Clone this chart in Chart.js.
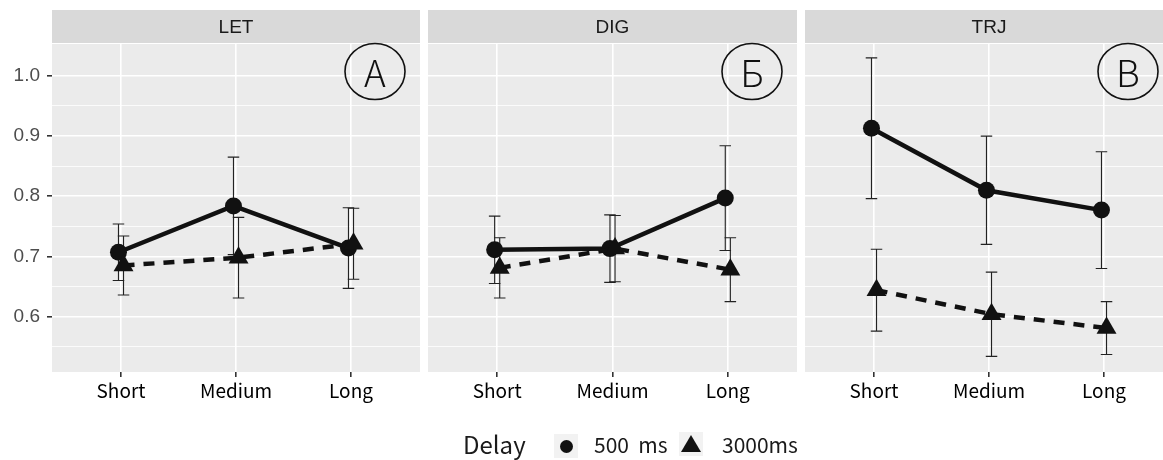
<!DOCTYPE html>
<html>
<head>
<meta charset="utf-8">
<script src="https://cdn.jsdelivr.net/npm/chart.js@4.4.1/dist/chart.umd.min.js"></script>
<style>
  html, body { margin: 0; padding: 0; background: #fff; }
  #wrap { position: relative; width: 1163px; height: 460px; overflow: hidden; }
  .panel { position: absolute; top: 0; }
  #legend { position: absolute; left: 0; top: 0; width: 1163px; height: 460px; font-family: "Noto Sans CJK KR", "Noto Sans", sans-serif; color: #1a1a1a; pointer-events: none; }
  #legend span { position: absolute; white-space: nowrap; }
  .key { background: #f2f2f2; width: 24px; height: 24px; }
  .dot { position: absolute; left: 5.5px; top: 5.5px; width: 13px; height: 13px; border-radius: 50%; background: #111; }
  .tri { position: absolute; left: 2px; top: 3px; width: 0; height: 0; border-left: 10px solid transparent; border-right: 10px solid transparent; border-bottom: 17px solid #111; }
</style>
</head>
<body>
<div id="wrap">
  <canvas id="c1" class="panel" width="424" height="410" style="left:0px"></canvas>
  <canvas id="c2" class="panel" width="377" height="410" style="left:424px"></canvas>
  <canvas id="c3" class="panel" width="376" height="410" style="left:801px"></canvas>
  <div id="legend">
    <span style="left:463px; top:426px; font-size:24px;">Delay</span>
    <span class="key" style="left:554px; top:434px;"><i class="dot"></i></span>
    <span style="left:594px; top:429px; font-size:21px;">500&nbsp; ms</span>
    <span class="key" style="left:679px; top:432px;"><i class="tri"></i></span>
    <span style="left:722px; top:429px; font-size:21px;">3000ms</span>
  </div>
</div>
<script>
var categories = ['Short', 'Medium', 'Long'];
var yMajor = [0.6, 0.7, 0.8, 0.9, 1.0];
var yMinor = [0.55, 0.65, 0.75, 0.85, 0.95];

// means and error half-widths
var let500 = [0.707, 0.784, 0.714];
var let500Err = [0.047, 0.081, 0.067];
var let3000 = [0.685, 0.698, 0.721];
var let3000Err = [0.049, 0.067, 0.059];

var dig500 = [0.711, 0.713, 0.797];
var dig500Err = [0.056, 0.056, 0.087];
var dig3000 = [0.681, 0.713, 0.678];
var dig3000Err = [0.050, 0.055, 0.053];

var trj500 = [0.913, 0.810, 0.777];
var trj500Err = [0.117, 0.090, 0.097];
var trj3000 = [0.644, 0.604, 0.581];
var trj3000Err = [0.068, 0.070, 0.044];

var dodge = 0.022;

function points(means, shift) {
    var out = [];
    for (var i = 0; i < means.length; i++) {
        out.push({ x: i + 1 + shift, y: means[i] });
    }
    return out;
}

function isMajor(v) {
    for (var i = 0; i < yMajor.length; i++) {
        if (Math.abs(yMajor[i] - v) < 1e-6) return true;
    }
    return false;
}

var panelPlugin = {
    id: 'panel',
    beforeDraw: function(chart, args, opts) {
        var ctx = chart.ctx;
        var a = chart.chartArea;
        ctx.save();
        ctx.fillStyle = '#ebebeb';
        ctx.fillRect(a.left, a.top, a.right - a.left, a.bottom - a.top);
        // strip
        ctx.fillStyle = '#d9d9d9';
        ctx.fillRect(a.left, 10, a.right - a.left, 33);
        ctx.fillStyle = '#1a1a1a';
        ctx.font = '19px "Liberation Sans", Arial, sans-serif';
        ctx.textAlign = 'center';
        ctx.textBaseline = 'middle';
        ctx.fillText(opts.facet, (a.left + a.right) / 2, 27.5);
        ctx.restore();
    },
    beforeDatasetsDraw: function(chart, args, opts) {
        var ctx = chart.ctx;
        var xs = chart.scales.x;
        var ys = chart.scales.y;
        ctx.save();
        ctx.strokeStyle = '#222';
        ctx.lineWidth = 1.1;
        chart.data.datasets.forEach(function(ds) {
            ds.data.forEach(function(p, i) {
                var x = xs.getPixelForValue(p.x);
                var top = ys.getPixelForValue(p.y + ds.err[i]);
                var bot = ys.getPixelForValue(p.y - ds.err[i]);
                var half = xs.getPixelForValue(1.05) - xs.getPixelForValue(1);
                ctx.beginPath();
                ctx.moveTo(x, top); ctx.lineTo(x, bot);
                ctx.moveTo(x - half, top); ctx.lineTo(x + half, top);
                ctx.moveTo(x - half, bot); ctx.lineTo(x + half, bot);
                ctx.stroke();
            });
        });
        ctx.restore();
    },
    afterDraw: function(chart, args, opts) {
        var ctx = chart.ctx;
        var a = chart.chartArea;
        var cx = a.right - 45, cy = 71.5;
        ctx.save();
        ctx.strokeStyle = '#111';
        ctx.lineWidth = 1.6;
        ctx.beginPath();
        ctx.ellipse(cx, cy, 30, 28, 0, 0, Math.PI * 2);
        ctx.stroke();
        ctx.fillStyle = '#111';
        ctx.font = '300 37px "Noto Sans CJK KR", "Noto Sans", sans-serif';
        ctx.textAlign = 'center';
        ctx.textBaseline = 'middle';
        ctx.fillText(opts.badge, cx, cy + 1);
        ctx.restore();
    }
};

function makePanel(id, facet, badge, m500, e500, m3000, e3000, showY, padding) {
    var ctx = document.getElementById(id).getContext('2d');
    return new Chart(ctx, {
        type: 'scatter',
        data: {
            datasets: [{
                label: '500 ms',
                data: points(m500, -dodge),
                err: e500,
                showLine: true,
                borderColor: '#111',
                borderWidth: 4.5,
                backgroundColor: '#111',
                pointStyle: 'circle',
                pointRadius: 8.5,
                pointBorderWidth: 0,
                order: 1
            }, {
                label: '3000ms',
                data: points(m3000, dodge),
                err: e3000,
                showLine: true,
                borderColor: '#111',
                borderWidth: 4.5,
                borderDash: [11, 9],
                backgroundColor: '#111',
                pointStyle: 'triangle',
                pointRadius: 11.5,
                pointBorderWidth: 0,
                order: 0
            }]
        },
        options: {
            responsive: false,
            animation: false,
            layout: { padding: padding, autoPadding: false },
            plugins: {
                legend: { display: false },
                tooltip: { enabled: false },
                panel: { facet: facet, badge: badge }
            },
            scales: {
                x: {
                    type: 'linear',
                    min: 0.4,
                    max: 3.6,
                    afterBuildTicks: function(scale) {
                        scale.ticks = categories.map(function(c, i) { return { value: i + 1 }; });
                    },
                    afterFit: function(scale) {
                        scale.height = 38;
                        scale.paddingLeft = 0;
                        scale.paddingRight = 0;
                    },
                    border: { display: false },
                    grid: { color: '#ffffff', lineWidth: 1.6, tickColor: '#333', tickLength: 5 },
                    ticks: {
                        padding: 2,
                        color: '#000',
                        font: { family: '"Noto Sans CJK KR", "Noto Sans", sans-serif', size: 19 },
                        callback: function(v) { return categories[Math.round(v) - 1]; }
                    }
                },
                y: {
                    min: 0.508,
                    max: 1.053,
                    afterBuildTicks: function(scale) {
                        scale.ticks = yMinor.concat(yMajor).sort().map(function(v) { return { value: v }; });
                    },
                    afterFit: function(scale) {
                        scale.width = showY ? 52 : 0;
                        scale.paddingTop = 0;
                        scale.paddingBottom = 0;
                    },
                    border: { display: false },
                    grid: {
                        color: '#ffffff',
                        lineWidth: function(c) { return isMajor(c.tick.value) ? 1.6 : 0.8; },
                        drawTicks: showY,
                        tickLength: 5,
                        tickColor: function(c) { return isMajor(c.tick.value) ? '#333' : 'rgba(0,0,0,0)'; }
                    },
                    ticks: {
                        display: showY,
                        padding: 7,
                        color: '#4d4d4d',
                        font: { family: '"Liberation Sans", Arial, sans-serif', size: 19 },
                        callback: function(v) { return isMajor(v) ? v.toFixed(1) : ''; }
                    }
                }
            }
        },
        plugins: [panelPlugin]
    });
}

makePanel('c1', 'LET', 'А', let500, let500Err, let3000, let3000Err, true, { left: 0, right: 4, top: 44, bottom: 0 });
makePanel('c2', 'DIG', 'Б', dig500, dig500Err, dig3000, dig3000Err, false, { left: 4, right: 4, top: 44, bottom: 0 });
makePanel('c3', 'TRJ', 'В', trj500, trj500Err, trj3000, trj3000Err, false, { left: 4, right: 4, top: 44, bottom: 0 });
</script>
</body>
</html>
